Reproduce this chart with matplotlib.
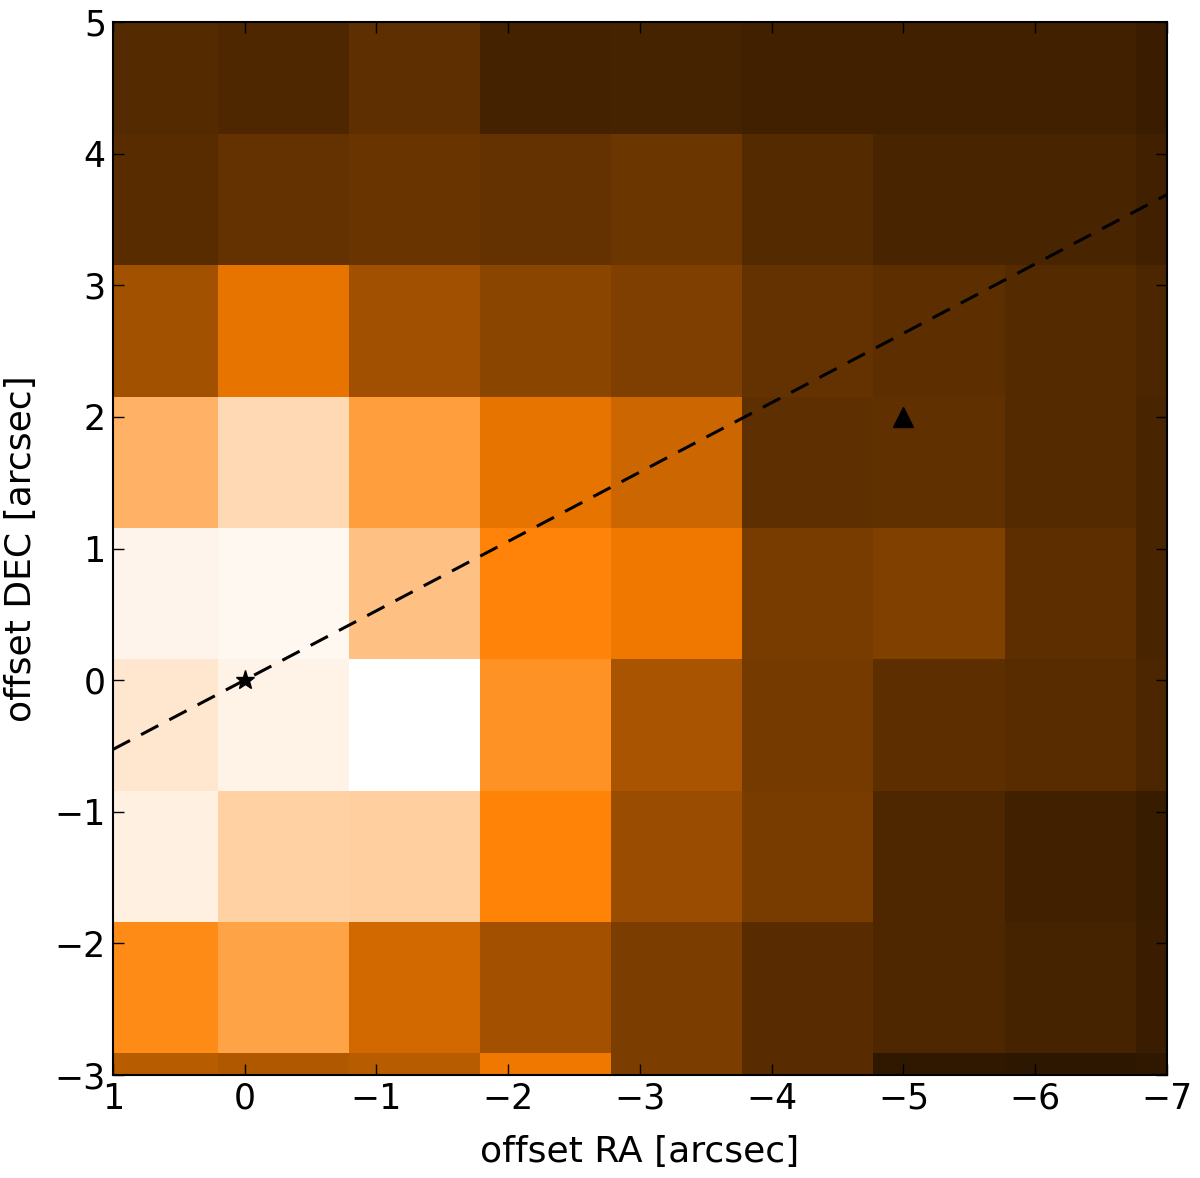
import numpy as np
import matplotlib
matplotlib.use("Agg")
import matplotlib.pyplot as plt
from matplotlib.colors import LinearSegmentedColormap

# surface brightness map (normalised), rows from top (north) to bottom
flux = np.array([
    [0.167, 0.155, 0.186, 0.135, 0.137, 0.131, 0.131, 0.131, 0.114],
    [0.176, 0.198, 0.208, 0.198, 0.212, 0.167, 0.145, 0.145, 0.131],
    [0.320, 0.455, 0.314, 0.273, 0.247, 0.198, 0.180, 0.167, 0.149],
    [0.696, 0.851, 0.620, 0.455, 0.400, 0.186, 0.188, 0.167, 0.145],
    [0.959, 0.971, 0.757, 0.516, 0.471, 0.239, 0.251, 0.180, 0.147],
    [0.906, 0.951, 1.000, 0.571, 0.329, 0.229, 0.180, 0.176, 0.151],
    [0.939, 0.820, 0.810, 0.514, 0.302, 0.241, 0.153, 0.131, 0.110],
    [0.543, 0.639, 0.412, 0.324, 0.243, 0.175, 0.153, 0.137, 0.114],
    [0.363, 0.345, 0.361, 0.471, 0.245, 0.173, 0.094, 0.092, 0.094],
])

# map extent in arcsec: RA left/right, DEC bottom/top
extent = [1.2, -7.755, -3.835, 5.138]

# markers
star_ra, star_dec = 0.0, 0.0
tri_ra, tri_dec = -5.0, 2.0

# dashed axis through the star (slope dDEC/dRA)
slope = -0.527
line_ra = np.array([1.0, -7.0])

cmap = LinearSegmentedColormap.from_list(
    "orangeheat", [(0, 0, 0), (1.0, 0.5, 0.0), (1, 1, 1)])

plt.rcParams['font.family'] = 'DejaVu Sans'
plt.rcParams['lines.scale_dashes'] = False

fig = plt.figure(figsize=(12, 11.78), dpi=100)
ax = fig.add_axes([0.094, 0.0874, 0.8785, 0.8939])

ax.imshow(flux, cmap=cmap, vmin=0, vmax=1, extent=extent,
          origin='upper', interpolation='nearest', aspect='auto')

ax.plot(line_ra, slope*line_ra, color='k', lw=2.2, dashes=(14, 9))
ax.plot(star_ra, star_dec, marker='*', color='k', ms=14, ls='none')
ax.plot(tri_ra, tri_dec, marker='^', color='k', ms=15, ls='none')

ax.set_xlim(1, -7)
ax.set_ylim(-3, 5)
ax.set_xticks(np.arange(1, -8, -1))
ax.set_yticks(np.arange(-3, 6, 1))

ax.tick_params(direction='in', top=True, right=True, length=8, width=1,
               labelsize=25, pad=5)
for s in ax.spines.values():
    s.set_linewidth(1.5)

ax.set_xlabel("offset RA [arcsec]", fontsize=26, labelpad=14)
ax.set_ylabel("offset DEC [arcsec]", fontsize=26, labelpad=12)

fig.savefig("out.png", dpi=100)
